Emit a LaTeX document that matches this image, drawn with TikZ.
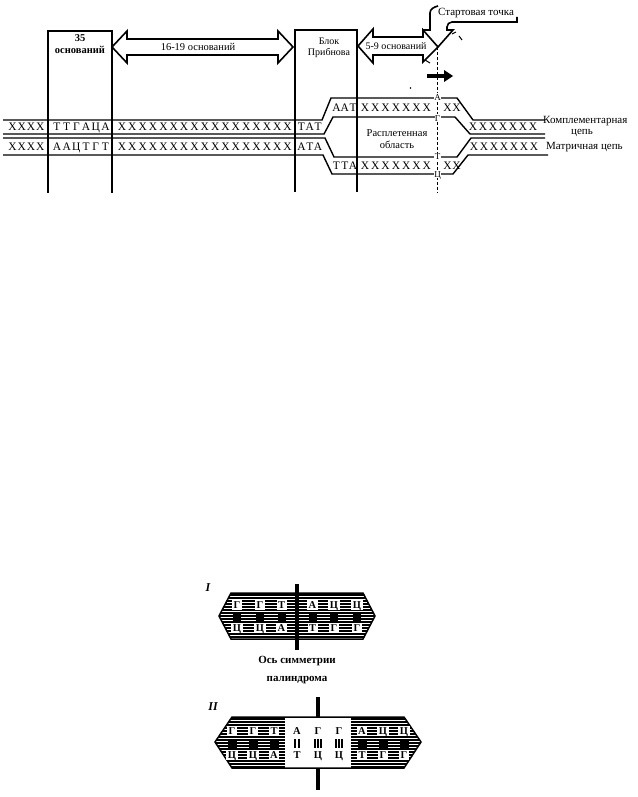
\documentclass[tikz,border=0pt]{standalone}
\usepackage{fontspec}
\setmainfont{Liberation Serif}
\begin{document}
\begin{tikzpicture}[x=1pt,y=-1pt,
  dna/.style={inner sep=0pt,text height=7.8pt,text depth=0pt,font=\fontsize{11.5}{11.5}\selectfont},
  lbl/.style={inner sep=0pt,align=center,font=\fontsize{10.5}{12}\selectfont},
  bl/.style={inner sep=0pt,align=center,font=\bfseries\fontsize{10}{12.5}\selectfont},
  strand/.style={line width=1.4pt,line join=miter},
  boxline/.style={line width=2.7pt,line join=miter},
  barrow/.style={draw,line width=1.6pt,fill=white,line join=miter},
  cal/.style={line width=1.6pt,line join=miter},
  startl/.style={inner sep=0.4pt,fill=white,text height=6.2pt,text depth=0pt,font=\fontsize{9}{9}\selectfont},
  pl/.style={inner sep=1.5pt,fill=white,text height=7.3pt,text depth=0pt,font=\bfseries\fontsize{10.5}{10.5}\selectfont},
  stripe/.style={line width=1.1pt},
  axis/.style={line width=3.2pt},
  figl/.style={inner sep=0pt,font=\bfseries\itshape\fontsize{12}{12}\selectfont}
]
\useasboundingbox (0,0) rectangle (637,797);
\newcommand{\seqrow}[5]{\foreach \c [count=\i] in {#5} \node[dna] (#1\i) at ({#2+(\i-1)*#3},#4) {\c};}

% ---------- DNA strands ----------
\draw[strand] (3,120) -- (322,120) -- (331,98) -- (457,98) -- (473,120) -- (545,120);
\draw[strand] (3,134) -- (324,134) -- (333,117) -- (455,117) -- (470,134) -- (545,134);
\draw[strand] (3,138) -- (325,138) -- (334,157) -- (457,157) -- (471,138) -- (545,138);
\draw[strand] (3,155) -- (323,155) -- (332,174) -- (453,174) -- (468,155) -- (548,155);

% complementary strand letters
\seqrow{ca}{12.5}{9.3}{127}{X,X,X,X}
\seqrow{cb}{57}{9.7}{127}{Т,Т,Г,А,Ц,А}
\seqrow{cc}{122}{10.35}{127}{X,X,X,X,X,X,X,X,X,X,X,X,X,X,X,X,X}
\seqrow{cd}{301.5}{8.3}{127}{Т,А,Т}
% template strand letters
\seqrow{ta}{12.5}{9.3}{146.5}{X,X,X,X}
\seqrow{tb}{57}{9.7}{146.5}{А,А,Ц,Т,Г,Т}
\seqrow{tc}{122}{10.35}{146.5}{X,X,X,X,X,X,X,X,X,X,X,X,X,X,X,X,X}
\seqrow{td}{301.5}{8.3}{146.5}{А,Т,А}
% bubble
\seqrow{ba}{336.5}{8.3}{107.5}{А,А,Т}
\seqrow{bb}{365}{10.3}{107.5}{X,X,X,X,X,X,X}
\seqrow{bc}{447.5}{9}{107.5}{X,X}
\seqrow{bd}{336.5}{8.3}{165.5}{Т,Т,А}
\seqrow{be}{365}{10.3}{165.5}{X,X,X,X,X,X,X}
\seqrow{bf}{447.5}{9}{165.5}{X,X}
% right duplex
\seqrow{ra}{473}{10}{127}{X,X,X,X,X,X,X}
\seqrow{rb}{474}{10}{146.5}{X,X,X,X,X,X,X}

\node[lbl] (unw) at (397,139) {Расплетенная\\область};
\node[lbl,anchor=west,font=\fontsize{11}{12}\selectfont] (komp) at (543,121.5) {Комплементарная};
\node[lbl,font=\fontsize{11}{12}\selectfont] (komp2) at (582,133) {цепь};
\node[lbl,anchor=west,font=\fontsize{11}{12}\selectfont] (matr) at (546,147) {Матричная цепь};

% ---------- boxes ----------
\draw[boxline] (48,193) -- (48,31) -- (112,31) -- (112,193);
\draw[boxline] (295,192) -- (295,30) -- (357,30) -- (357,192);
\node[bl,font=\bfseries\fontsize{10.5}{12.5}\selectfont] (b35) at (80,44) {35\\оснований};
\node[lbl,font=\fontsize{10}{11.5}\selectfont] (prib) at (329,48) {Блок\\Прибнова};

% ---------- double arrows ----------
\draw[barrow] (112,47) -- (127,31) -- (127,39) -- (278,39) -- (278,31) -- (293,47) -- (278,63) -- (278,55) -- (127,55) -- (127,63) -- cycle;
\node[lbl] (a1619) at (198,46.5) {16-19 оснований};
\draw[barrow] (358,46) -- (373,29) -- (373,37) -- (423,37) -- (423,30) -- (438,47) -- (423,62) -- (423,55) -- (373,55) -- (373,63) -- cycle;
\node[lbl,font=\fontsize{10}{11}\selectfont] (a59) at (396,46) {5-9 оснований};

% ---------- start point callout ----------
\draw[cal] (423,30) -- (430,30) -- (430,13) to[out=90,in=195] (438,6);
\draw[cal] (438,47) -- (453,30) -- (447,30) -- (447,27) to[out=90,in=180] (452,22) -- (517,22) -- (517,17);
\node[lbl,font=\fontsize{11}{12}\selectfont] (start) at (476,13) {Стартовая точка};

% dashed start line
\draw[line width=0.8pt,dash pattern=on 3pt off 2pt] (437.5,47) -- (437.5,193);
\node[startl] (sA) at (437.5,97) {А};
\node[startl] (sG) at (437.5,118) {Г};
\node[startl] (sT) at (437.5,156) {Т};
\node[startl] (sC) at (437.5,174) {Ц};

% direction arrow
\fill (427,73.6) rectangle (445,78.4);
\fill (444,70) -- (453,76) -- (444,82) -- cycle;

% small marks
\draw[line width=1pt] (452,34) -- (456,32);
\draw[line width=1pt] (459,36) -- (462,40);
\draw[line width=1pt] (425,60) -- (430,63);
\fill (410.5,88) circle (0.8);

% ---------- palindrome I ----------
\begin{scope}
\clip (219,616) -- (231,593) -- (363,593) -- (375,616) -- (363,639) -- (231,639) -- cycle;
\foreach \yy in {595,598,...,638} \draw[stripe] (210,\yy) -- (385,\yy);
\end{scope}
\draw[line width=1.5pt,line join=miter] (219,616) -- (231,593) -- (363,593) -- (375,616) -- (363,639) -- (231,639) -- cycle;
\foreach \dx/\t/\b [count=\i] in {-60/Г/Ц,-37/Г/Ц,-15.5/Т/А,15.5/А/Т,37/Ц/Г,60/Ц/Г}{
  \node[pl] (pIt\i) at (297+\dx,605) {\t};
  \node[pl] (pIb\i) at (297+\dx,628) {\b};
  \fill ({297+\dx-4},612.5) rectangle ({297+\dx+4},620.5);
}
\draw[axis] (297,584) -- (297,650);
\node[figl] (figI) at (208,588) {I};
\node[bl,font=\bfseries\fontsize{11}{12}\selectfont] (axl1) at (297,661) {Ось симметрии};
\node[bl,font=\bfseries\fontsize{11}{12}\selectfont] (axl2) at (297,680) {палиндрома};

% ---------- palindrome II ----------
\begin{scope}
\clip (215,742) -- (232,717) -- (404,717) -- (421,742) -- (404,768) -- (232,768) -- cycle;
\foreach \yy in {719,722,...,767} \draw[stripe] (205,\yy) -- (430,\yy);
\fill[white] (285,716) rectangle (351,770);
\end{scope}
\draw[line width=1.5pt,line join=miter] (215,742) -- (232,717) -- (404,717) -- (421,742) -- (404,768) -- (232,768) -- cycle;
\foreach \dx/\t/\b [count=\i] in {-86/Г/Ц,-65/Г/Ц,-44/Т/А,-21/А/Т,0/Г/Ц,21/Г/Ц,44/А/Т,65/Ц/Г,86/Ц/Г}{
  \node[pl] (pIIt\i) at (318+\dx,731) {\t};
  \node[pl] (pIIb\i) at (318+\dx,755) {\b};
}
\foreach \dx in {-86,-65,-44,44,65,86}
  \fill ({318+\dx-4.5},738.5) rectangle ({318+\dx+4.5},748);
\foreach \xx in {295.3,298.7} \fill ({\xx-0.9},738.5) rectangle ({\xx+0.9},748);
\foreach \xx in {315,318,321,336,339,342} \fill ({\xx-0.9},738.5) rectangle ({\xx+0.9},748);
\draw[axis] (318,697) -- (318,717);
\draw[axis] (318,768) -- (318,790);
\node[figl] (figII) at (213,707) {II};
\end{tikzpicture}
\end{document}
